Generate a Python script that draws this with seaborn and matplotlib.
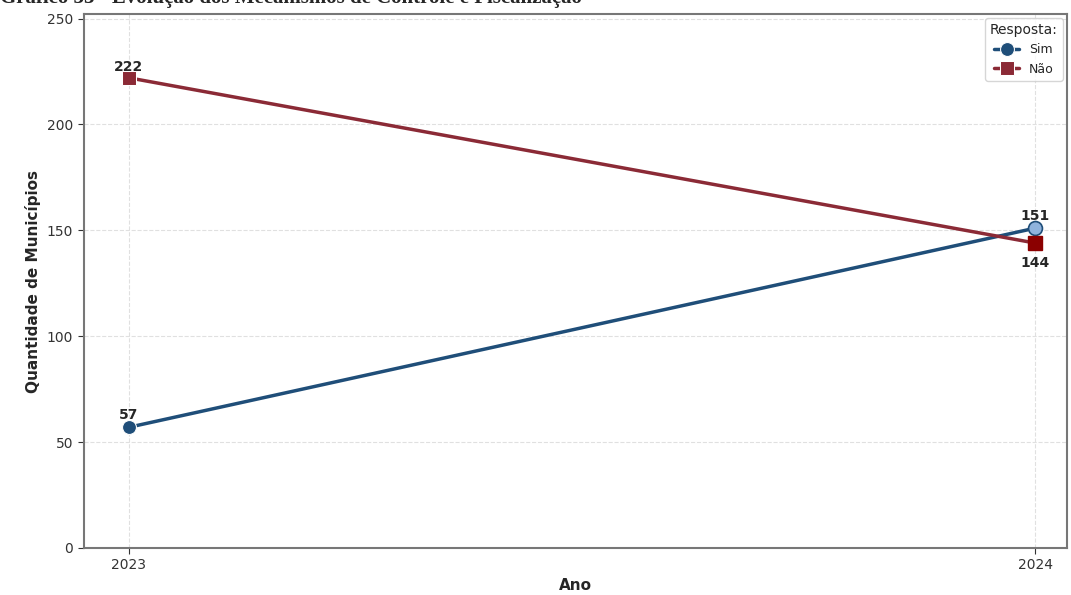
import matplotlib.pyplot as plt
import seaborn as sns
import pandas as pd

# Dados do gráfico
anos = [2023, 2024]
sim = [57, 151]
nao = [222, 144]
respostas = ["Sim", "Não"]

df = pd.DataFrame({
    "Ano": anos * 2,
    "Quantidade": sim + nao,
    "Resposta": [respostas[0]] * len(anos) + [respostas[1]] * len(anos),
})
df["pos"] = df["Ano"] - anos[0]

sns.set_style("whitegrid")
plt.rcParams['font.family'] = ['DejaVu Sans']

cores = {"Sim": "#1f4e79", "Não": "#8b2a36"}

fig, ax = plt.subplots(figsize=(10.71, 5.95), dpi=100)
sns.lineplot(data=df, x="pos", y="Quantidade", hue="Resposta", style="Resposta",
             markers={"Sim": "o", "Não": "s"}, dashes=False, palette=cores,
             linewidth=2.5, markersize=10, ax=ax)

# destaque dos pontos de 2024
ax.plot(1, sim[1], marker="o", markersize=10, color="#8fb3dd",
        markeredgecolor="#1f4e79", markeredgewidth=1.2, linestyle="none")
ax.plot(1, nao[1], marker="s", markersize=10, color="#8b0000", linestyle="none")

# rótulos
for i, v in enumerate(sim):
    ax.annotate(str(v), (i, v), xytext=(0, 4), textcoords="offset points",
                ha="center", va="bottom", fontsize=10, fontweight="bold")
ax.annotate(str(nao[0]), (0, nao[0]), xytext=(0, 3), textcoords="offset points",
            ha="center", va="bottom", fontsize=10, fontweight="bold")
ax.annotate(str(nao[1]), (1, nao[1]), xytext=(0, -9), textcoords="offset points",
            ha="center", va="top", fontsize=10, fontweight="bold")

ax.set_xticks([0, 1])
ax.set_xticklabels([str(a) for a in anos])
ax.set_xlim(-0.05, 1.035)
ax.set_ylim(0, 252)
ax.set_yticks([0, 50, 100, 150, 200, 250])
ax.tick_params(axis="both", labelsize=10, colors="#333333", length=4, left=True, bottom=True)
ax.set_xlabel("Ano", fontsize=11, fontweight="bold")
ax.set_ylabel("Quantidade de Municípios", fontsize=11, fontweight="bold")
ax.grid(True, linestyle="--", linewidth=0.8, color="#e0e0e0")
for s in ax.spines.values():
    s.set_color("#777777")
    s.set_linewidth(1.5)

leg = ax.legend(title="Resposta:", loc="upper right", fontsize=9, title_fontsize=10,
                frameon=True, borderaxespad=0.3)

fig.subplots_adjust(left=0.078, right=0.996, top=0.976, bottom=0.079)
# título cortado na parte de cima, como na figura original
fig.text(0.0, 1.003, "Gráfico 33 - Evolução dos Mecanismos de Controle e Fiscalização",
         fontsize=15, fontweight="bold", family="Liberation Serif", ha="left", va="center")

fig.savefig("out.png", dpi=100)
